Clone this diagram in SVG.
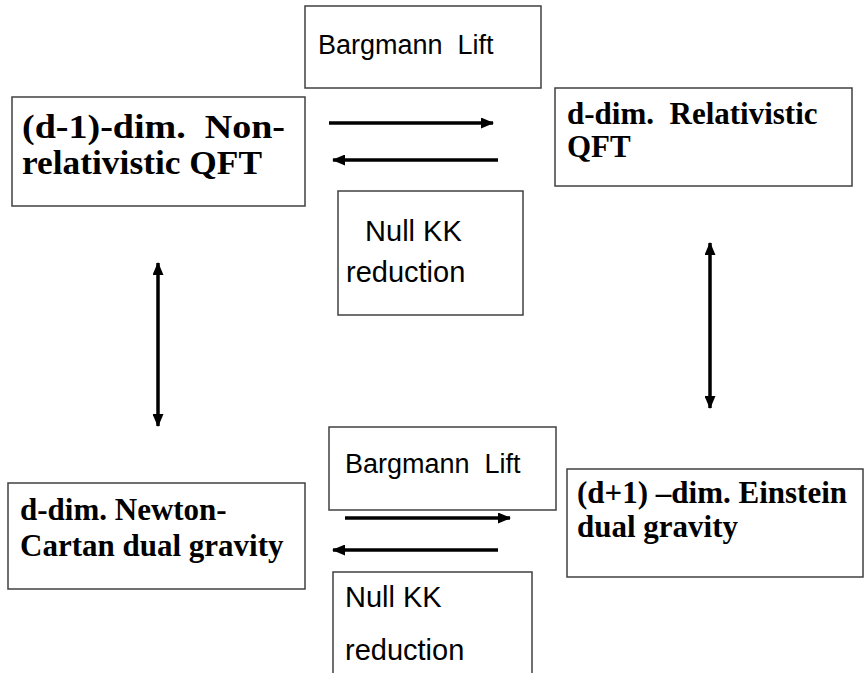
<svg xmlns="http://www.w3.org/2000/svg" width="865" height="673" viewBox="0 0 865 673">
<style>
.box{fill:#fff;stroke:#404040;stroke-width:1.5}
.serif{font-family:"Liberation Serif","Times New Roman",serif;font-weight:bold;font-size:31px;fill:#000;white-space:pre}
.big{font-size:33px}
.sans{font-family:"Liberation Sans",Arial,sans-serif;font-size:27px;fill:#000;white-space:pre}
.kk{font-size:29px}
.arr{stroke:#000;stroke-width:3.5;fill:none}
</style>
<defs>
<marker id="ah" viewBox="0 0 13 11" refX="12" refY="5.5" markerWidth="13" markerHeight="11" markerUnits="userSpaceOnUse" orient="auto-start-reverse">
<path d="M0,0 L13,5.5 L0,11 z" fill="#000"/>
</marker>
</defs>
<g id="connectors">
<line class="arr" x1="329" y1="123" x2="493" y2="123" marker-end="url(#ah)"/>
<line class="arr" x1="498" y1="160" x2="333" y2="160" marker-end="url(#ah)"/>
<line class="arr" x1="345" y1="518" x2="510" y2="518" marker-end="url(#ah)"/>
<line class="arr" x1="498" y1="550" x2="333" y2="550" marker-end="url(#ah)"/>
<line class="arr" x1="158" y1="263" x2="158" y2="426" marker-start="url(#ah)" marker-end="url(#ah)"/>
<line class="arr" x1="710" y1="243" x2="710" y2="408" marker-start="url(#ah)" marker-end="url(#ah)"/>
</g>
<g id="bargmann-top">
<rect class="box" x="305" y="6" width="236" height="82"/>
<text class="sans" x="318" y="54">Bargmann  Lift</text>
</g>
<g id="nonrel-qft">
<rect class="box" x="12" y="97" width="293" height="109"/>
<text class="serif big" x="22" y="138" textLength="263" lengthAdjust="spacingAndGlyphs">(d-1)-dim.  Non-</text>
<text class="serif big" x="22" y="174" textLength="240" lengthAdjust="spacingAndGlyphs">relativistic QFT</text>
</g>
<g id="rel-qft">
<rect class="box" x="555" y="88" width="297" height="98"/>
<text class="serif" x="567" y="124">d-dim.  Relativistic</text>
<text class="serif" x="567" y="157">QFT</text>
</g>
<g id="nullkk-top">
<rect class="box" x="338" y="191" width="185" height="124"/>
<text class="sans kk" x="357" y="241"> Null KK</text>
<text class="sans kk" x="346" y="282">reduction</text>
</g>
<g id="newton-cartan">
<rect class="box" x="8" y="483" width="297" height="106"/>
<text class="serif" x="20" y="520">d-dim. Newton-</text>
<text class="serif" x="20" y="556">Cartan dual gravity</text>
</g>
<g id="bargmann-bottom">
<rect class="box" x="329" y="427" width="227" height="83"/>
<text class="sans" x="345" y="473">Bargmann  Lift</text>
</g>
<g id="einstein">
<rect class="box" x="567" y="469" width="296" height="108"/>
<text class="serif" x="577" y="503">(d+1) –dim. Einstein</text>
<text class="serif" x="577" y="537">dual gravity</text>
</g>
<g id="nullkk-bottom">
<rect class="box" x="333" y="572" width="199" height="120"/>
<text class="sans kk" x="345" y="607">Null KK</text>
<text class="sans kk" x="345" y="660">reduction</text>
</g>
</svg>
